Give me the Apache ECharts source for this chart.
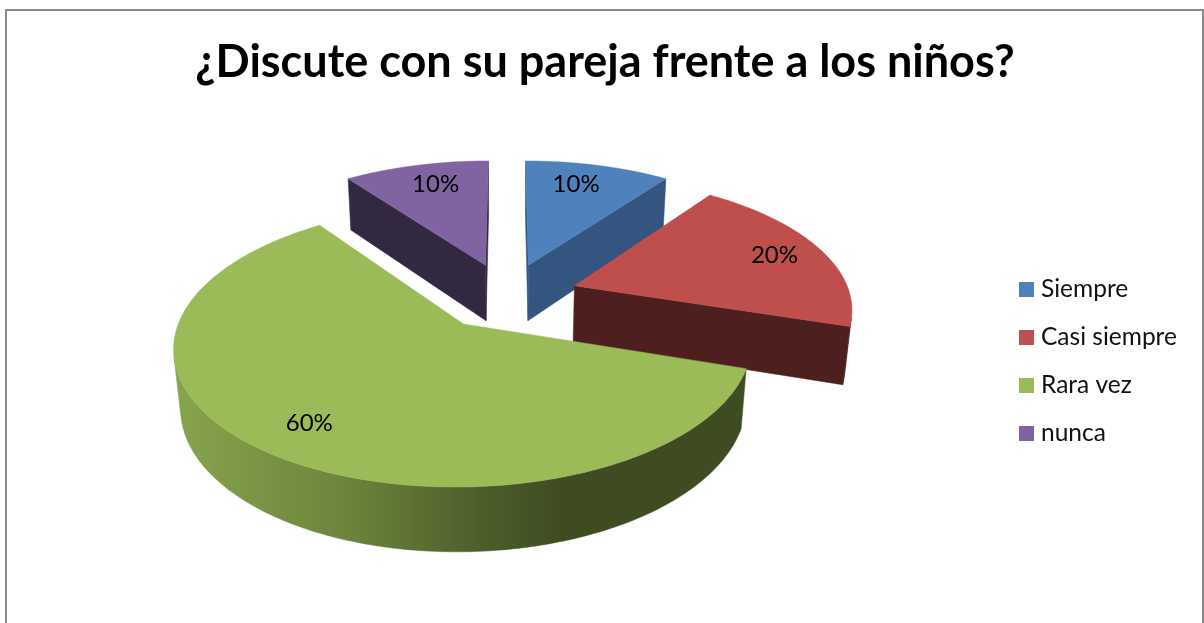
<!DOCTYPE html>
<html>
<head>
<meta charset="utf-8">
<style>html,body{margin:0;padding:0;background:#fff}#c{width:1204px;height:623px}</style>
<script src="https://cdn.jsdelivr.net/npm/echarts@6/dist/echarts.min.js"></script>
</head>
<body>
<div id="c"></div>
<script>
const titleText = '¿Discute con su pareja frente a los niños?';
const categories = ['Siempre', 'Casi siempre', 'Rara vez', 'nunca'];
const values = [10, 20, 60, 10];
const percentLabels = ['10%', '20%', '60%', '10%'];

const topColors = ['#4F81BD', '#BE4F4C', '#9BBB59', '#8064A2'];
const sideColors = ['#33557F', '#4D1F1F', '#3F4C22', '#322840'];
const labelRadius = [0.78, 0.81, 0.8, 0.78];
const labelFraction = [0.43, 0.5, 0.5, 0.55];

// view of the tilted pie plane
const view = { cx: 507, cy: 296, R: 276, Rq: 128.8, k: 0.152, H: 58, m: 0.02, explode: 0.26 };
function project(u, v, z) {
  const w = 1 - view.k * v + view.m * z;
  return [view.cx + view.R * u / w, view.cy + (view.Rq * v + view.H * z) / w];
}
function area(p) {
  let s = 0;
  for (let i = 0; i < p.length; i++) {
    const a = p[i], b = p[(i + 1) % p.length];
    s += a[0] * b[1] - b[0] * a[1];
  }
  return s;
}
const total = values.reduce((a, b) => a + b, 0);
function sliceAngles(i) {
  let s = 0;
  for (let j = 0; j < i; j++) s += values[j];
  return [s / total * 2 * Math.PI, (s + values[i]) / total * 2 * Math.PI];
}
function renderSlice(idx) {
  const [a0, a1] = sliceAngles(idx);
  const mid = (a0 + a1) / 2;
  const ou = view.explode * Math.sin(mid), ov = -view.explode * Math.cos(mid);
  const rim = (a, z) => project(ou + Math.sin(a), ov - Math.cos(a), z);
  const apex = z => project(ou, ov, z);
  const children = [];
  const side = sideColors[idx];
  const poly = (points, fill) => children.push({
    type: 'polygon', shape: { points },
    style: { fill, stroke: fill, lineWidth: 0.5 }, silent: true
  });
  const q0 = [apex(0), rim(a0, 0), rim(a0, 1), apex(1)];
  if (area(q0) < 0) poly(q0, side);
  const q1 = [apex(0), rim(a1, 0), rim(a1, 1), apex(1)];
  if (area(q1) > 0) poly(q1, side);
  const n = Math.ceil((a1 - a0) / (Math.PI / 180));
  const top = [], bot = [];
  for (let i = 0; i < n; i++) {
    const b0 = a0 + (a1 - a0) * i / n, b1 = a0 + (a1 - a0) * (i + 1) / n;
    const q = [rim(b0, 0), rim(b1, 0), rim(b1, 1), rim(b0, 1)];
    if (area(q) < 0) {
      if (!top.length) { top.push(q[0]); bot.push(q[3]); }
      top.push(q[1]); bot.push(q[2]);
    }
  }
  if (top.length) {
    const fill = idx === 2 ? new echarts.graphic.LinearGradient(175, 0, 560, 0, [
      { offset: 0, color: '#87A44D' },
      { offset: 0.45, color: '#6C843C' },
      { offset: 0.8, color: '#4C5D2A' },
      { offset: 1, color: '#3F4C22' }
    ], true) : side;
    poly(top.concat(bot.slice().reverse()), fill);
  }
  const surf = [apex(0)];
  for (let i = 0; i <= n; i++) surf.push(rim(a0 + (a1 - a0) * i / n, 0));
  poly(surf, topColors[idx]);
  const r = labelRadius[idx];
  const la = a0 + (a1 - a0) * labelFraction[idx];
  const lp = project(ou + r * Math.sin(la), ov - r * Math.cos(la), 0);
  children.push({
    type: 'text', silent: true,
    style: { x: lp[0], y: lp[1], text: percentLabels[idx], align: 'center', verticalAlign: 'middle',
      fill: '#000', font: '24px Lato' }
  });
  return { type: 'group', children };
}

const chart = echarts.init(document.getElementById('c'), null, { renderer: 'canvas' });
chart.setOption({
  animation: false,
  backgroundColor: '#fff',
  title: {
    text: titleText, left: 600, top: 35, textAlign: 'center',
    textStyle: { fontFamily: 'Lato', fontWeight: 'bold', fontSize: 45, color: '#000' }
  },
  legend: {
    data: categories, orient: 'vertical', left: 1014, top: 272, icon: 'rect',
    itemWidth: 15, itemHeight: 15, itemGap: 23, selectedMode: false,
    textStyle: { fontFamily: 'Lato', fontSize: 24.5, color: '#111', padding: [0, 0, 0, 2] }
  },
  graphic: [{
    type: 'polyline', silent: true,
    shape: { points: [[6, 623], [6, 10], [1203, 10], [1203, 623]] },
    style: { fill: null, stroke: '#8A8A8A', lineWidth: 2 }
  }],
  series: categories.map((name, i) => ({
    type: 'custom', name, coordinateSystem: 'none',
    itemStyle: { color: topColors[i] },
    data: [values[i]],
    renderItem: () => renderSlice(i)
  }))
});
</script>
</body>
</html>
